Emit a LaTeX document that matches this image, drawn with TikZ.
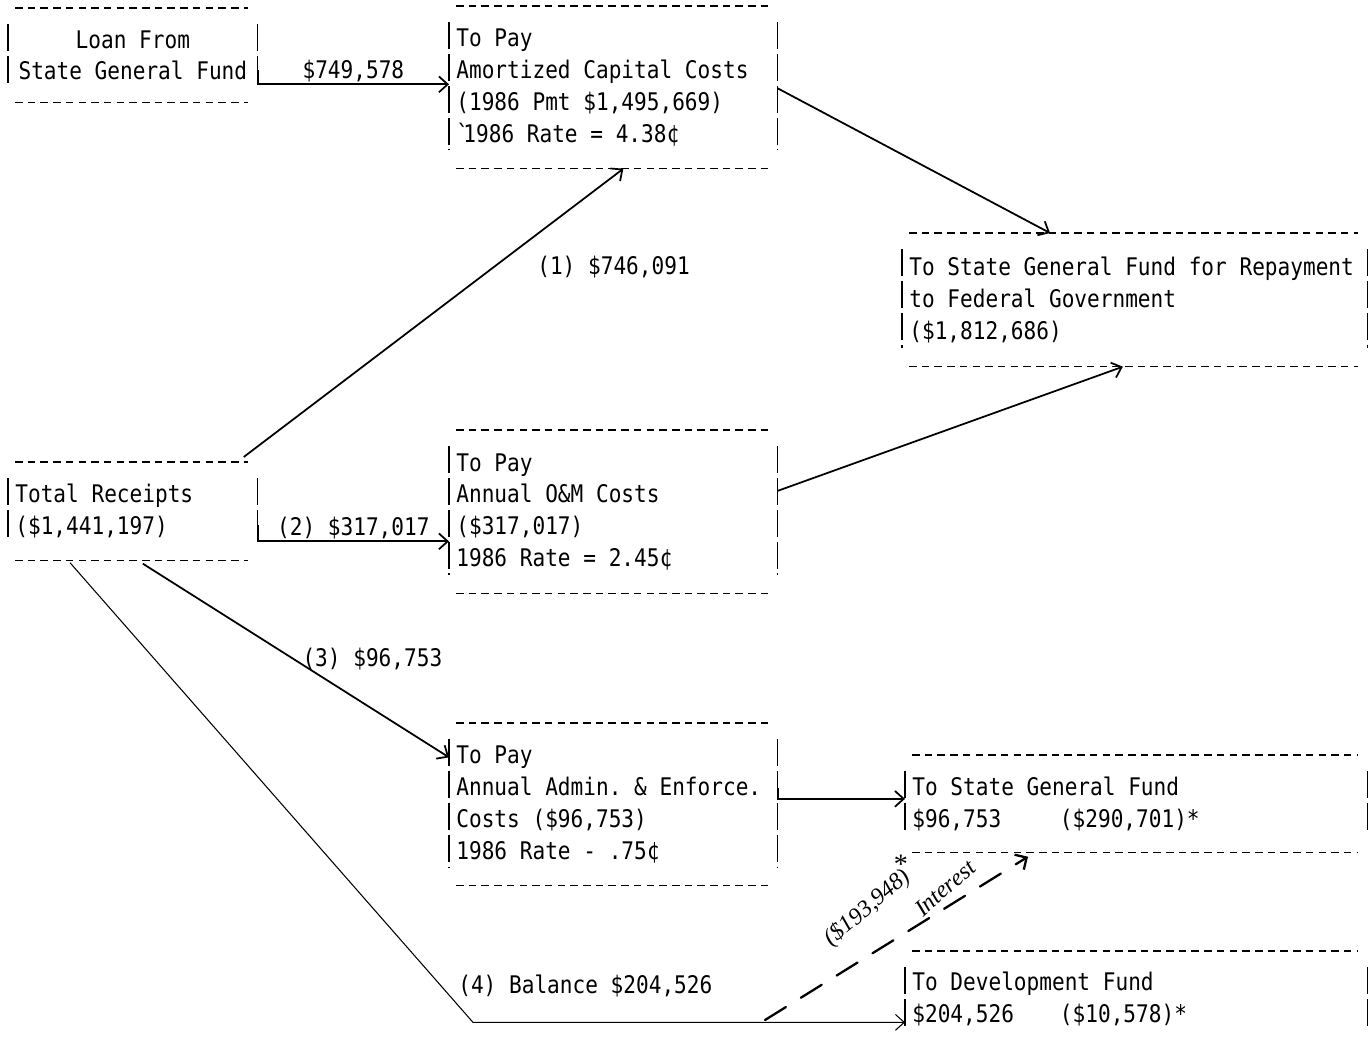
\documentclass[tikz,border=0pt]{standalone}
\usepackage{fontspec}
\setmainfont{DejaVu Sans Mono}[FakeStretch=0.87]
\newfontfamily\handfont{Liberation Serif}
\usetikzlibrary{arrows.meta,calc}

\begin{document}
\begin{tikzpicture}[
        x=0.02cm, y=-0.02cm,
        typed/.style={font=\fontsize{13.8}{18.14}\selectfont,
            execute at begin node={\spaceskip=7.23pt\relax\xspaceskip=7.23pt\relax}},
        ledger/.style={typed, anchor=north west, inner xsep=4pt, inner ysep=0pt, align=left},
        dashrule/.style={line width=0.8pt, dash pattern=on 4.3pt off 2.93pt},
        sidebar/.style={line width=0.8pt, dash pattern=on 15.3pt off 2.84pt},
        flow/.style={line width=1pt, -{Straight Barb[length=5pt,width=9pt]}},
        amount/.style={typed, inner sep=1pt},
        pencil/.style={font=\handfont\itshape\fontsize{13.5}{15}\selectfont, inner sep=0pt},
        pencilflow/.style={line width=1.3pt, line cap=round, dash pattern=on 14pt off 10pt,
            -{Straight Barb[length=5pt,width=10pt]}}
    ]
    \useasboundingbox (0,0) rectangle (1372,1046);

    % boxes
    \node[ledger, align=center, text width=4.70cm, minimum height=1.88cm] (loan) at (8,8)
        {Loan From\\State General Fund};
    \node[ledger, text width=6.28cm, minimum height=3.24cm] (amort) at (449,6)
        {To Pay\\Amortized Capital Costs\\(1986 Pmt \$1,495,669)\\\relax\makebox[4pt][l]{\textasciigrave}1986 Rate = 4.38¢};
    \node[ledger, text width=9.02cm, minimum height=2.66cm] (repay) at (902,233)
        {To State General Fund for Repayment\\to Federal Government\\(\$1,812,686)};
    \node[ledger, text width=4.70cm, minimum height=1.96cm] (total) at (8,462)
        {Total Receipts\\(\$1,441,197)};
    \node[ledger, text width=6.28cm, minimum height=3.26cm] (om) at (449,430)
        {To Pay\\Annual O\&M Costs\\(\$317,017)\\1986 Rate = 2.45¢};
    \node[ledger, text width=6.28cm, minimum height=3.24cm] (admin) at (449,723)
        {To Pay\\Annual Admin. \& Enforce.\\Costs (\$96,753)\\1986 Rate - .75¢};
    \node[ledger, text width=8.96cm, minimum height=1.94cm] (sgf) at (905,755)
        {To State General Fund\\\relax\makebox[84pt][l]{\$96,753}(\$290,701)*};
    \node[ledger, text width=8.96cm, minimum height=1.92cm] (dev) at (905,951)
        {To Development Fund\\\relax\makebox[84pt][l]{\$204,526}(\$10,578)*};

    % typed frames
    \foreach \b in {loan,amort,repay,total,om,admin,sgf,dev} {
        \draw[dashrule] ($(\b.north west)+(7,0)$) -- ($(\b.north east)+(-10,0)$);
        \draw[sidebar] ($(\b.north west)+(0,16)$) -- ($(\b.south west)+(0,-19)$);
        \draw[sidebar] ($(\b.north east)+(0,16)$) -- ($(\b.south east)+(0,-19)$);
    }
    \foreach \b in {loan,amort,repay,total,om,admin,sgf}
        \draw[dashrule] ($(\b.south west)+(7,0)$) -- ($(\b.south east)+(-10,0)$);

    % flows
    \draw[flow] ($(loan.east)+(0,15)$) |- ($(amort.west)+(0,-3)$)
        node[amount, pos=0.75, above] {\$749,578};
    \draw[flow] ($(total.north east)+(-14,-5)$) -- ($(amort.south)+(10,0)$)
        node[amount, pos=0.66, right=23pt] {(1) \$746,091};
    \draw[flow] ($(amort.east)+(0,1)$) -- ($(repay.north west)+(148,0)$);
    \draw[flow] ($(om.east)+(0,-21)$) -- ($(repay.south)+(-12,0)$);
    \draw[flow] ($(total.east)+(0,14)$) |- ($(om.west)+(0,29.5)$)
        node[amount, pos=0.75, above] {(2) \$317,017};
    \draw[flow] ($(total.south)+(10,3)$) -- ($(admin.west)+(0,-47)$)
        node[amount, pos=0.49, right=4pt] {(3) \$96,753};
    \draw[flow, line width=0.6pt] ($(total.south west)+(62,2)$) -- ($(dev.west)+(-432,23)$)
        -- ($(dev.west)+(0,23)$)
        node[amount, pos=0.26, above=13pt] {(4) Balance \$204,526};
    \draw[flow] ($(admin.east)+(0,-16)$) |- ($(sgf.west)+(0,-5)$);

    % pencilled interest note
    \coordinate (intfrom) at (765,1020);
    \draw[pencilflow] (intfrom) -- ($(sgf.south west)+(123,4)$);
    \node[pencil, rotate=40] (intamt) at (868,908) {(\$193,948)};
    \node[pencil, rotate=41] (intword) at (945,888) {Interest};
    \node[pencil, font=\handfont\fontsize{16}{16}\selectfont] (intstar) at (901,864) {*};

\end{tikzpicture}
\end{document}
